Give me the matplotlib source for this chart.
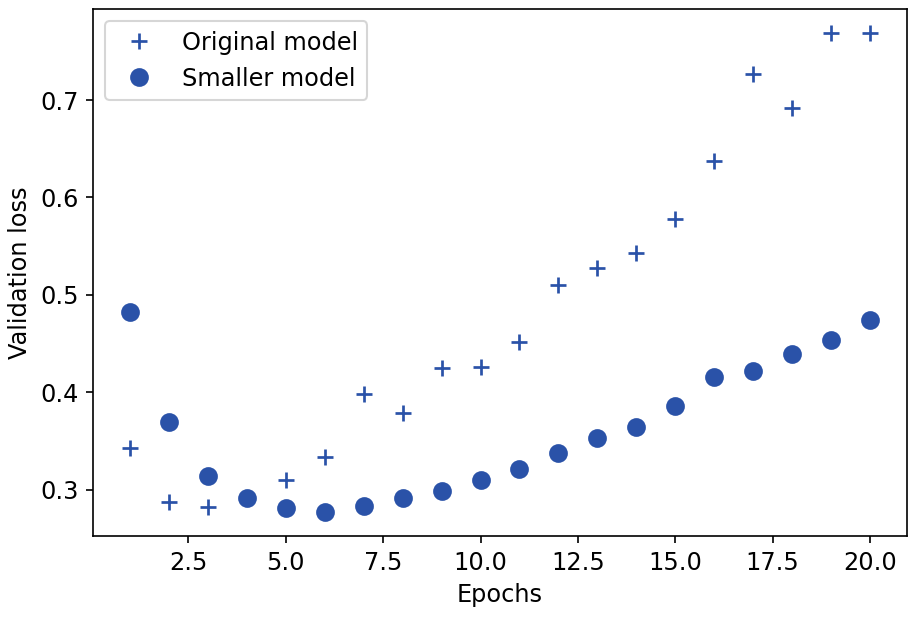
import matplotlib
matplotlib.use("Agg")
import matplotlib.pyplot as plt

epochs = list(range(1, 21))
original_val_loss = [0.3427, 0.2874, 0.2823, 0.2915, 0.3102, 0.3335, 0.3983, 0.3792,
                     0.4246, 0.4256, 0.4512, 0.5099, 0.5276, 0.5433, 0.5775, 0.6372,
                     0.7266, 0.6915, 0.7686, 0.7689]
smaller_val_loss = [0.4822, 0.3700, 0.3143, 0.2915, 0.2809, 0.2771, 0.2836, 0.2915,
                    0.2986, 0.3102, 0.3218, 0.3382, 0.3532, 0.3648, 0.3860, 0.4157,
                    0.4215, 0.4389, 0.4540, 0.4740]

plt.rcParams['font.size'] = 11.5
color = "#2a52a8"
dpi = 150
fig = plt.figure(figsize=(916 / dpi, 618 / dpi), dpi=dpi)
ax = fig.add_axes([93 / 916, (618 - 536) / 618, (907 - 93) / 916, (536 - 9) / 618])

ax.plot(epochs, original_val_loss, '+', color=color, markersize=7.5, markeredgewidth=1.3,
        label='Original model')
ax.plot(epochs, smaller_val_loss, 'o', color=color, markersize=8, label='Smaller model')

ax.set_xlabel('Epochs')
ax.set_ylabel('Validation loss')
ax.legend(loc='upper left')

fig.savefig('out.png', dpi=dpi)
